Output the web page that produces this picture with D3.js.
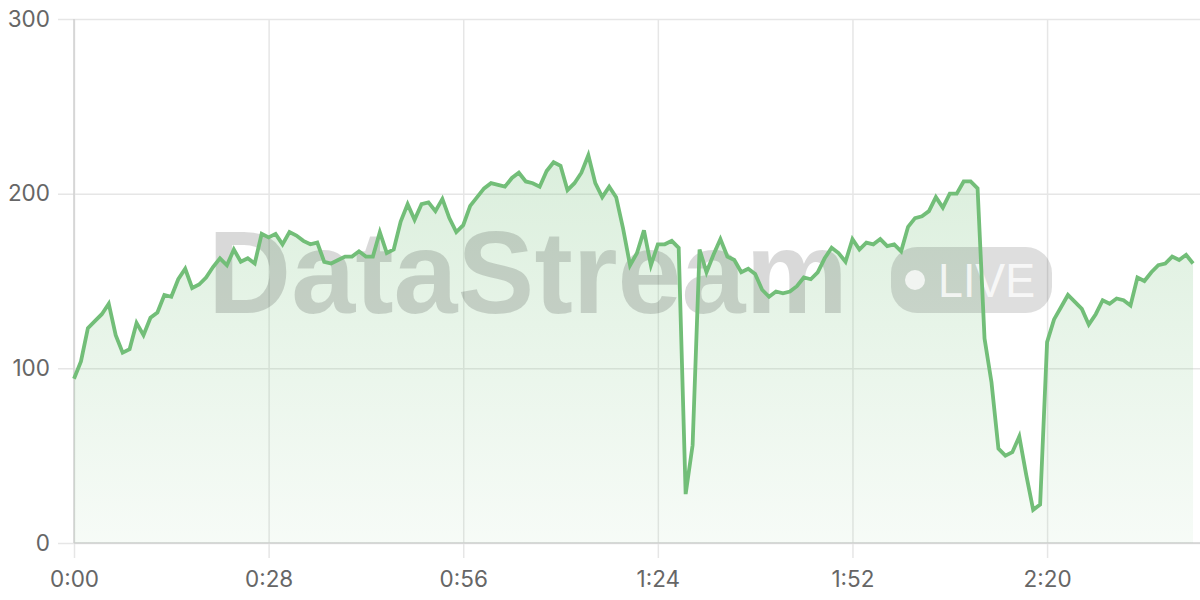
<!DOCTYPE html>
<html>
<head>
<meta charset="utf-8">
<script src="https://cdn.jsdelivr.net/npm/d3@7/dist/d3.min.js"></script>
<style>
  html, body { margin: 0; padding: 0; background: #fff; }
  svg { display: block; }
</style>
</head>
<body>
<svg id="chart" width="1200" height="600"></svg>
<script>
// ---- data ----
const values = [
  94,104,123,127,131,137,119,109,111,126,119,129,132,142,141,151,157,146,148,152,
  158,163,159,168,161,163,160,177,175,177,171,178,176,173,171,172,161,160,162,164,
  164,167,164,164,178,166,168,184,194,185,194,195,190,197,186,178,182,193,198,203,
  206,205,204,209,212,207,206,204,213,218,216,202,206,212,222,206,198,204,198,180,
  159,166,179,159,171,171,173,169,28,56,168,155,165,174,164,162,155,157,154,145,
  141,144,143,144,147,152,151,155,163,169,166,161,174,168,172,171,174,170,171,167,
  181,186,187,190,198,192,200,200,207,207,203,117,92,54,50,52,61,39,19,22,
  115,128,135,142,138,134,125,131,139,137,140,139,136,152,150,155,159,160,164,162,
  165,160
];
const seconds = d3.range(values.length);
const xTickValues = [0, 28, 56, 84, 112, 140];
const xTickLabels = ["0:00", "0:28", "0:56", "1:24", "1:52", "2:20"];
const yTickValues = [0, 100, 200, 300];
const watermarkText = "DataStream";
const badgeText = "LIVE";

// ---- layout ----
const svg = d3.select("#chart");
const mLeft = 74, mRight = 1200, mTop = 19, mBottom = 543;
const x = d3.scaleLinear().domain([0, 162]).range([mLeft, mRight]);
const y = d3.scaleLinear().domain([0, 300]).range([mBottom, mTop]);
const FONT = "Inter, 'Liberation Sans', Arial, sans-serif";

const defs = svg.append("defs");
const grad = defs.append("linearGradient").attr("id", "areaGrad")
  .attr("x1", 0).attr("y1", 0).attr("x2", 0).attr("y2", 1);
grad.append("stop").attr("offset", "0%").attr("stop-color", "#74c07a").attr("stop-opacity", 0.26);
grad.append("stop").attr("offset", "100%").attr("stop-color", "#74c07a").attr("stop-opacity", 0.06);

// grid + y axis
const yAxis = d3.axisLeft(y).tickValues(yTickValues).tickSize(mRight - mLeft + 16).tickPadding(8);
const gy = svg.append("g").attr("transform", `translate(${mRight},0)`).call(yAxis);
gy.select(".domain").remove();
gy.selectAll(".tick line").attr("stroke", "#e6e6e6").attr("stroke-width", 1.5);
gy.selectAll(".tick text").attr("fill", "#666").attr("font-size", 22.5).attr("font-family", FONT)
  .attr("x", -(mRight - mLeft + 24));

// x axis
const xAxis = d3.axisBottom(x).tickValues(xTickValues)
  .tickFormat((d, i) => xTickLabels[i])
  .tickSize(mBottom - mTop + 15).tickPadding(13);
const gx = svg.append("g").attr("transform", `translate(0,${mTop})`).call(xAxis);
gx.select(".domain").remove();
gx.selectAll(".tick line").attr("stroke", "#e6e6e6").attr("stroke-width", 1.5);
gx.selectAll(".tick text").attr("fill", "#666").attr("font-size", 22.5).attr("font-family", FONT);

// axis lines
svg.append("line").attr("x1", x(0)).attr("x2", x(0)).attr("y1", mTop).attr("y2", mBottom)
  .attr("stroke", "#d0d0d0").attr("stroke-width", 1.5);
svg.append("line").attr("x1", mLeft).attr("x2", mRight).attr("y1", y(0)).attr("y2", y(0))
  .attr("stroke", "#d0d0d0").attr("stroke-width", 1.5);

// area
const area = d3.area().x((d, i) => x(seconds[i])).y0(y(0)).y1(d => y(d));
svg.append("path").datum(values).attr("d", area).attr("fill", "url(#areaGrad)");

// watermark
const wm = svg.append("g");
wm.append("text").attr("x", 208).attr("y", 313)
  .attr("font-family", "'Liberation Sans', Arial, sans-serif").attr("font-weight", 700)
  .attr("font-size", 116).attr("fill", "#000").attr("fill-opacity", 0.15)
  .attr("textLength", 640).attr("lengthAdjust", "spacingAndGlyphs")
  .text(watermarkText);
wm.append("rect").attr("x", 891).attr("y", 247).attr("width", 161).attr("height", 66)
  .attr("rx", 26).attr("fill", "#000").attr("fill-opacity", 0.13);
wm.append("circle").attr("cx", 915).attr("cy", 280).attr("r", 10)
  .attr("fill", "#fff").attr("fill-opacity", 0.75);
wm.append("text").attr("x", 938).attr("y", 297)
  .attr("font-family", "'Liberation Sans', Arial, sans-serif").attr("font-weight", 400)
  .attr("font-size", 48).attr("fill", "#fff").attr("fill-opacity", 0.8)
  .attr("textLength", 97).attr("lengthAdjust", "spacingAndGlyphs")
  .text(badgeText);

// line
const line = d3.line().x((d, i) => x(seconds[i])).y(d => y(d));
svg.append("path").datum(values).attr("d", line)
  .attr("fill", "none").attr("stroke", "#72be78").attr("stroke-width", 3.8)
  .attr("stroke-linejoin", "miter");
</script>
</body>
</html>
